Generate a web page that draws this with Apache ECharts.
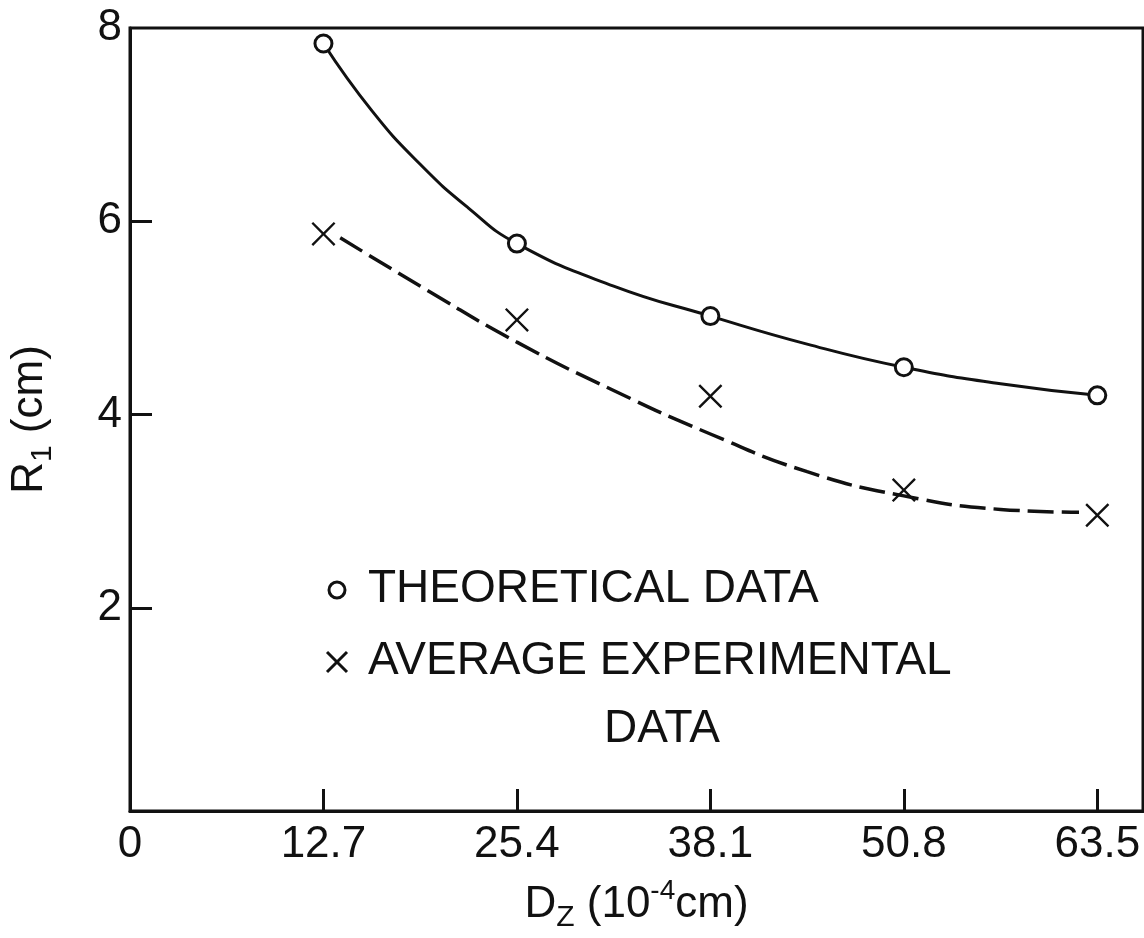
<!DOCTYPE html>
<html>
<head>
<meta charset="utf-8">
<title>R1 vs Dz</title>
<script src="https://cdn.jsdelivr.net/npm/echarts@6/dist/echarts.min.js"></script>
<style>
html, body { margin: 0; padding: 0; background: #fff; }
#chart { width: 1144px; height: 938px; }
</style>
</head>
<body>
<div id="chart"></div>
<script>
// tick labels
var xTicks = [12.7, 25.4, 38.1, 50.8, 63.5];
var yTicks = [2, 4, 6, 8];

// theoretical data (circles)
var theoryX = [12.7, 25.4, 38.1, 50.8, 63.5];
var theoryY = [7.84, 5.77, 5.02, 4.49, 4.20];

// points
var theoryCurveX = [12.7, 15.9, 19.05, 22.2, 25.4, 31.75, 38.1, 44.45, 50.8, 57.15, 63.5];
var theoryCurveY = [7.84, 7.14, 6.59, 6.14, 5.77, 5.33, 5.02, 4.73, 4.49, 4.32, 4.20];

// average experimental data (crosses)
var expX = [12.7, 25.4, 38.1, 50.8, 63.5];
var expY = [5.87, 4.98, 4.19, 3.22, 2.96];

// points
var expCurveX = [13.8, 19.7, 25.4, 31.75, 38.1, 44.45, 50.8, 57.15, 62.3];
var expCurveY = [5.83, 5.27, 4.75, 4.25, 3.80, 3.41, 3.16, 3.02, 2.99];

var FONT = 'Liberation Sans';
var INK = '#111';
var crossPath = 'path://M0,7L7,0L50,43L93,0L100,7L57,50L100,93L93,100L50,57L7,100L0,93L43,50Z';

function pairs(xs, ys) {
	var out = [];
	for (var i = 0; i < xs.length; i++) {
		out.push([xs[i], ys[i]]);
	}
	return out;
}

var myChart = echarts.init(document.getElementById('chart'));

var nameRich = {
	n : { fontFamily : FONT, fontSize : 44, color : INK, lineHeight : 56 },
	sub : { fontFamily : FONT, fontSize : 30, color : INK, lineHeight : 30, verticalAlign : 'bottom' },
	sup : { fontFamily : FONT, fontSize : 28, color : INK, lineHeight : 28, verticalAlign : 'top' }
};

var option = {
	backgroundColor : '#fff',
	animation : false,
	grid : {
		left : 122,
		top : 28,
		width : 1021,
		height : 783,
		show : true,
		borderColor : INK,
		borderWidth : 3
	},
	xAxis : {
		type : 'value',
		min : 0,
		max : 66.5,
		name : '{n|D}{sub|Z}{n| (10}{sup|-4}{n|cm)}',
		nameLocation : 'middle',
		nameGap : 66,
		nameTextStyle : { rich : nameRich },
		axisLine : { show : true, onZero : false, lineStyle : { color : INK, width : 3 } },
		axisTick : {
			show : true,
			inside : true,
			length : 22,
			customValues : xTicks,
			lineStyle : { color : INK, width : 3 }
		},
		axisLabel : {
			customValues : [0].concat(xTicks),
			formatter : function(v) { return String(v); },
			fontFamily : FONT,
			fontSize : 44,
			color : INK,
			margin : 12
		},
		splitLine : { show : false }
	},
	yAxis : {
		type : 'value',
		min : -0.1,
		max : 8,
		name : '{n|R}{sub|1}{n| (cm)}',
		nameLocation : 'middle',
		nameGap : 72,
		nameTextStyle : { rich : nameRich },
		axisLine : { show : true, onZero : false, lineStyle : { color : INK, width : 3 } },
		axisTick : {
			show : true,
			inside : true,
			length : 22,
			customValues : [2, 4, 6],
			lineStyle : { color : INK, width : 3 }
		},
		axisLabel : {
			customValues : yTicks,
			fontFamily : FONT,
			fontSize : 44,
			color : INK,
			margin : 8
		},
		splitLine : { show : false }
	},
	// legend written inside the plot area
	graphic : [
		{ type : 'circle', shape : { cx : 337, cy : 590, r : 8 },
			style : { fill : '#fff', stroke : INK, lineWidth : 3 } },
		{ type : 'line', shape : { x1 : 327, y1 : 652, x2 : 347, y2 : 672 },
			style : { stroke : INK, lineWidth : 3 } },
		{ type : 'line', shape : { x1 : 347, y1 : 652, x2 : 327, y2 : 672 },
			style : { stroke : INK, lineWidth : 3 } },
		{ type : 'text', left : 368, top : 566,
			style : { text : 'THEORETICAL DATA', font : '46px "Liberation Sans"', fill : INK } },
		{ type : 'text', left : 368, top : 638,
			style : { text : 'AVERAGE EXPERIMENTAL', font : '46px "Liberation Sans"', fill : INK } },
		{ type : 'text', left : 604, top : 706,
			style : { text : 'DATA', font : '46px "Liberation Sans"', fill : INK } }
	],
	series : [ {
		name : 'theoretical curve',
		type : 'line',
		data : pairs(theoryCurveX, theoryCurveY),
		smooth : true,
		symbol : 'none',
		lineStyle : { color : INK, width : 3 },
		z : 2
	}, {
		name : 'THEORETICAL DATA',
		type : 'scatter',
		data : pairs(theoryX, theoryY),
		symbol : 'circle',
		symbolSize : 17,
		itemStyle : { color : '#fff', borderColor : INK, borderWidth : 3, opacity : 1 },
		z : 4
	}, {
		name : 'AVERAGE EXPERIMENTAL DATA',
		type : 'scatter',
		data : pairs(expX, expY),
		symbol : crossPath,
		symbolSize : 24,
		itemStyle : { color : INK, opacity : 1 },
		z : 4
	}, {
		name : 'experimental curve',
		type : 'line',
		data : pairs(expCurveX, expCurveY),
		smooth : true,
		symbol : 'none',
		lineStyle : { color : INK, width : 3.5, type : [26, 8] },
		z : 2
	} ]
};

myChart.setOption(option);
</script>
</body>
</html>
